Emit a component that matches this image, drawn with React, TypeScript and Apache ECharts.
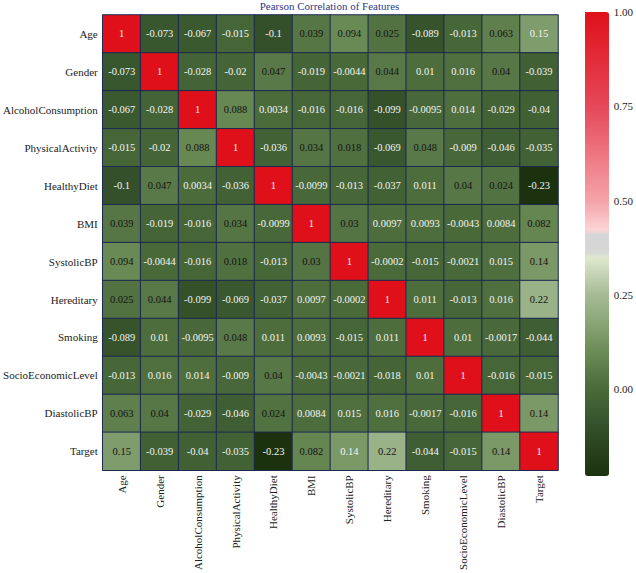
import React, { useEffect, useRef } from "react";
import * as echarts from "echarts";

const features = [
  "Age",
  "Gender",
  "AlcoholConsumption",
  "PhysicalActivity",
  "HealthyDiet",
  "BMI",
  "SystolicBP",
  "Hereditary",
  "Smoking",
  "SocioEconomicLevel",
  "DiastolicBP",
  "Target",
];

const corrAge = [1, -0.073, -0.067, -0.015, -0.1, 0.039, 0.094, 0.025, -0.089, -0.013, 0.063, 0.15];
const corrGender = [-0.073, 1, -0.028, -0.02, 0.047, -0.019, -0.0044, 0.044, 0.01, 0.016, 0.04, -0.039];
const corrAlcohol = [-0.067, -0.028, 1, 0.088, 0.0034, -0.016, -0.016, -0.099, -0.0095, 0.014, -0.029, -0.04];
const corrPhysical = [-0.015, -0.02, 0.088, 1, -0.036, 0.034, 0.018, -0.069, 0.048, -0.009, -0.046, -0.035];
const corrDiet = [-0.1, 0.047, 0.0034, -0.036, 1, -0.0099, -0.013, -0.037, 0.011, 0.04, 0.024, -0.23];
const corrBMI = [0.039, -0.019, -0.016, 0.034, -0.0099, 1, 0.03, 0.0097, 0.0093, -0.0043, 0.0084, 0.082];
const corrSystolic = [0.094, -0.0044, -0.016, 0.018, -0.013, 0.03, 1, -0.0002, -0.015, -0.0021, 0.015, 0.14];
const corrHereditary = [0.025, 0.044, -0.099, -0.069, -0.037, 0.0097, -0.0002, 1, 0.011, -0.013, 0.016, 0.22];
const corrSmoking = [-0.089, 0.01, -0.0095, 0.048, 0.011, 0.0093, -0.015, 0.011, 1, 0.01, -0.0017, -0.044];
const corrSocio = [-0.013, 0.016, 0.014, -0.009, 0.04, -0.0043, -0.0021, -0.018, 0.01, 1, -0.016, -0.015];
const corrDiastolic = [0.063, 0.04, -0.029, -0.046, 0.024, 0.0084, 0.015, 0.016, -0.0017, -0.016, 1, 0.14];
const corrTarget = [0.15, -0.039, -0.04, -0.035, -0.23, 0.082, 0.14, 0.22, -0.044, -0.015, 0.14, 1];

const matrix = [
  corrAge, corrGender, corrAlcohol, corrPhysical, corrDiet, corrBMI,
  corrSystolic, corrHereditary, corrSmoking, corrSocio, corrDiastolic, corrTarget,
];

// cells whose annotation is white although the value is in the dark-text range
const whiteTextCells = ["0,11", "11,6"];

const colorbarTicks = [0, 0.25, 0.5, 0.75, 1];
const vMin = -0.23;
const vMax = 1;

const colorStops: [number, string][] = [
  [-0.23, "#1c320e"],
  [-0.1, "#33502a"],
  [0.0, "#4a6a3a"],
  [0.1, "#6b8b57"],
  [0.2, "#93ad80"],
  [0.25, "#a5ba94"],
  [0.36, "#e6edd4"],
  [0.3605, "#d6d6d6"],
  [0.41, "#d6d6d6"],
  [0.4105, "#fcdcdc"],
  [0.5, "#f5a3a8"],
  [0.75, "#e54858"],
  [1.0, "#e0101a"],
];

function hexToRgb(h: string) {
  const n = parseInt(h.slice(1), 16);
  return [(n >> 16) & 255, (n >> 8) & 255, n & 255];
}
function colorAt(v: number) {
  if (v <= colorStops[0][0]) return colorStops[0][1];
  for (let i = 1; i < colorStops.length; i++) {
    const [v1, c1] = colorStops[i];
    const [v0, c0] = colorStops[i - 1];
    if (v <= v1) {
      const t = (v - v0) / (v1 - v0);
      const a = hexToRgb(c0);
      const b = hexToRgb(c1);
      const r = a.map((x, k) => Math.round(x + (b[k] - x) * t));
      return `rgb(${r[0]},${r[1]},${r[2]})`;
    }
  }
  return colorStops[colorStops.length - 1][1];
}

const FONT = "Liberation Serif";

export default function App() {
  const ref = useRef<HTMLDivElement>(null);
  useEffect(() => {
    document.body.style.margin = "0";
    if (!ref.current) return;
    const chart = echarts.init(ref.current, undefined, { renderer: "svg" });

    const data: any[] = [];
    matrix.forEach((row, y) => {
      row.forEach((v, x) => {
        const key = `${y},${x}`;
        const dark = v > 0.017 && v < 0.5 && !whiteTextCells.includes(key);
        data.push({
          value: [x, y, v],
          label: {
            formatter: String(v),
            color: dark ? "#141414" : "#f4f4f4",
          },
        });
      });
    });

    const N = 400;
    const mapColors: string[] = [];
    for (let i = 0; i <= N; i++) mapColors.push(colorAt(vMin + ((vMax - vMin) * i) / N));

    const gridL = 101, gridT = 15, gridW = 457, gridH = 457;
    const cbL = 585, cbT = 12, cbW = 24, cbH = 464;

    chart.setOption({
      animation: false,
      backgroundColor: "#ffffff",
      title: {
        text: "Pearson Correlation of Features",
        left: gridL + gridW / 2,
        textAlign: "center",
        top: 0,
        padding: 0,
        textStyle: { fontFamily: FONT, fontSize: 11, fontWeight: "normal", color: "#2e3a87" },
      },
      grid: [
        { left: gridL, top: gridT, width: gridW, height: gridH },
        { left: cbL, top: cbT, width: cbW, height: cbH },
      ],
      xAxis: [
        {
          type: "category",
          data: features,
          gridIndex: 0,
          axisLine: { show: false },
          axisTick: { show: false },
          splitArea: { show: false },
          axisLabel: {
            rotate: 90,
            interval: 0,
            margin: 5,
            fontFamily: FONT,
            fontSize: 11,
            color: "#222",
          },
        },
        { type: "value", gridIndex: 1, show: false, min: 0, max: 1 },
      ],
      yAxis: [
        {
          type: "category",
          data: features,
          inverse: true,
          gridIndex: 0,
          axisLine: { show: false },
          axisTick: { show: false },
          axisLabel: {
            interval: 0,
            margin: 5,
            fontFamily: FONT,
            fontSize: 11,
            color: "#222",
          },
        },
        {
          type: "value",
          gridIndex: 1,
          position: "right",
          min: vMin,
          max: vMax,
          axisLine: { show: false },
          splitLine: { show: false },
          axisTick: {
            show: true,
            length: 4,
            customValues: colorbarTicks,
            lineStyle: { color: "#333", width: 1 },
          },
          axisLabel: {
            customValues: colorbarTicks,
            formatter: (v: number) => v.toFixed(2),
            margin: 7,
            fontFamily: FONT,
            fontSize: 11,
            color: "#222",
          },
        },
      ],
      visualMap: {
        type: "continuous",
        min: vMin,
        max: vMax,
        seriesIndex: 0,
        calculable: false,
        orient: "vertical",
        left: cbL,
        top: cbT,
        itemWidth: cbW,
        itemHeight: cbH,
        padding: 0,
        text: null,
        showLabel: false,
        inRange: { color: mapColors },
      },
      series: [
        {
          type: "heatmap",
          xAxisIndex: 0,
          yAxisIndex: 0,
          data,
          label: { show: true, fontFamily: FONT, fontSize: 10.5 },
          itemStyle: { borderColor: "#1b2850", borderWidth: 1 },
          emphasis: { disabled: true },
        },
      ],
    });
    return () => chart.dispose();
  }, []);
  return <div ref={ref} style={{ width: 636, height: 573 }} />;
}
